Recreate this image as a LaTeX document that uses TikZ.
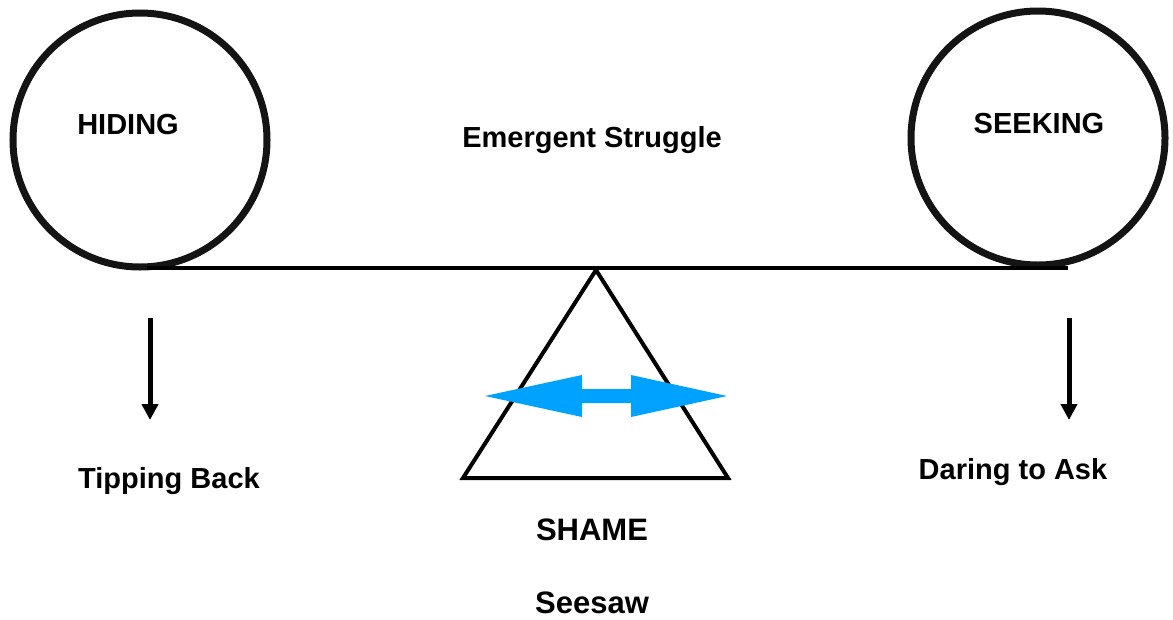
\documentclass[tikz,border=0pt]{standalone}
\usepackage{fontspec}
\setmainfont{Liberation Sans}
\usetikzlibrary{arrows.meta}
\definecolor{arrowblue}{HTML}{00A2FF}
\begin{document}
\begin{tikzpicture}[x=1pt,y=-1pt,
  lbl/.style={font=\bfseries\fontsize{29}{34}\selectfont, inner sep=0pt},
  big/.style={font=\bfseries\fontsize{31}{36}\selectfont},
  ring/.style={draw=black!92, line width=7pt, circle, minimum size=254pt, inner sep=0pt},
  down/.style={line width=5pt, -{Triangle[length=16pt,width=16pt]}},
  beam/.style={line width=4pt},
  fulcrum/.style={line width=4pt, line join=miter}]
\useasboundingbox (0,0) rectangle (1173,619);
% circles
\node[ring] (hidec) at (140,140) {};
\node[ring] (seekc) at (1038,138) {};
% beam
\coordinate (bl) at (147,268);
\coordinate (br) at (1068,268);
\draw[beam] (bl) -- (br);
% fulcrum
\coordinate (apex) at (596,270);
\coordinate (bL) at (463,478);
\coordinate (bR) at (728,478);
\draw[fulcrum] (apex) -- (bL) -- (bR) -- cycle;
% blue double arrow
\fill[arrowblue] (485,396) -- (582,375) -- (582,389) -- (631,389) -- (631,375) -- (727,396)
  -- (631,417) -- (631,403) -- (582,403) -- (582,417) -- cycle;
% down arrows
\coordinate (la1) at (150,318);
\coordinate (la2) at (150,420);
\coordinate (ra1) at (1069,318);
\coordinate (ra2) at (1069,420);
\draw[down] (la1) -- (la2);
\draw[down] (ra1) -- (ra2);
% labels
\node[lbl] (hiding) at (128,125) {HIDING};
\node[lbl] (emerg) at (592,140) {Emergent Struggle};
\node[lbl] (seeking) at (1039,124) {SEEKING};
\node[lbl] (tip) at (169,481) {Tipping Back};
\node[lbl] (dare) at (1013,472) {Daring to Ask};
\node[lbl, big] (shame) at (592,530) {SHAME};
\node[lbl, big] (seesaw) at (592,603) {Seesaw};
\end{tikzpicture}
\end{document}
